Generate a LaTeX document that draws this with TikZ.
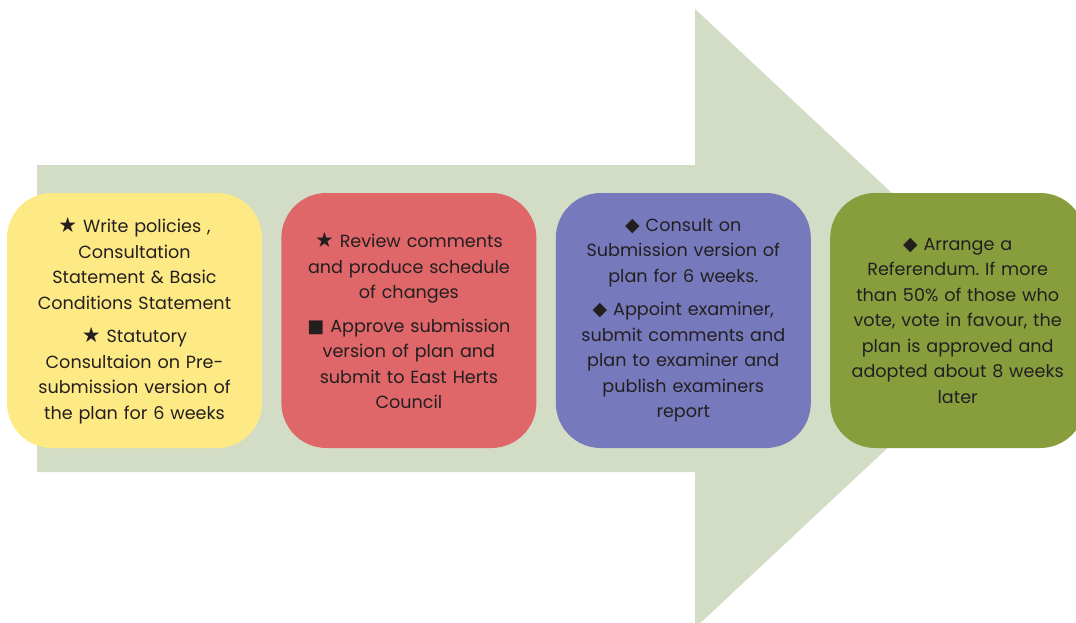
\documentclass[tikz,border=0pt]{standalone}
\usepackage{fontspec}
\setmainfont{Poppins}
\newfontfamily\symfont{DejaVu Sans}
\usetikzlibrary{positioning}
\frenchspacing

\definecolor{arrowgreen}{HTML}{D3DDC5}
\definecolor{yellowbox}{HTML}{FEEA85}
\definecolor{redbox}{HTML}{DF6669}
\definecolor{bluebox}{HTML}{7779BD}
\definecolor{greenbox}{HTML}{889E3D}
\definecolor{inktext}{HTML}{231F20}

\newcommand{\bstar}{{\symfont\fontsize{21}{25.5}\selectfont ★}}
\newcommand{\bsquare}{{\symfont\fontsize{18}{25.5}\selectfont ■}}
\newcommand{\bdiamond}{{\symfont\fontsize{19}{25.5}\selectfont ◆}}

\tikzset{
  stage/.style={rounded corners=45pt, minimum width=255pt, minimum height=255pt,
    text width=245pt, align=center, inner sep=0pt, text=inktext,
    font=\fontsize{17.6}{25.5}\selectfont},
}

\begin{document}
\begin{tikzpicture}[x=1pt,y=-1pt]
\useasboundingbox (0,0) rectangle (1076,623);
% big arrow behind the stages
\fill[arrowgreen] (37,165) -- (695,165) -- (695,9) -- (1026,318.5)
   -- (695,628) -- (695,472) -- (37,472) -- cycle;

\node[stage, fill=yellowbox] (write) at (134.5,320.5)
  {\bstar\ Write policies ,\\ Consultation\\ Statement \& Basic\\ Conditions Statement\\[8pt]
   \bstar\ Statutory\\ Consultaion on Pre-\\ submission version of\\ the plan for 6 weeks};
\node[stage, fill=redbox, right=19pt of write] (review)
  {\bstar\ Review comments\\ and produce schedule\\ of changes\\[8pt]
   \bsquare\ Approve submission\\ version of plan and\\ submit to East Herts\\ Council};
\node[stage, fill=bluebox, right=19pt of review] (consult)
  {\bdiamond\ Consult on\\ Submission version of\\ plan for 6 weeks.\\[8pt]
   \bdiamond\ Appoint examiner,\\ submit comments and\\ plan to examiner and\\ publish examiners\\ report};
\node[stage, fill=greenbox, right=19pt of consult] (referendum)
  {\bdiamond\ Arrange a\\ Referendum. If more\\ than 50\% of those who\\ vote, vote in favour, the\\ plan is approved and\\ adopted about 8 weeks\\ later};
\end{tikzpicture}
\end{document}
